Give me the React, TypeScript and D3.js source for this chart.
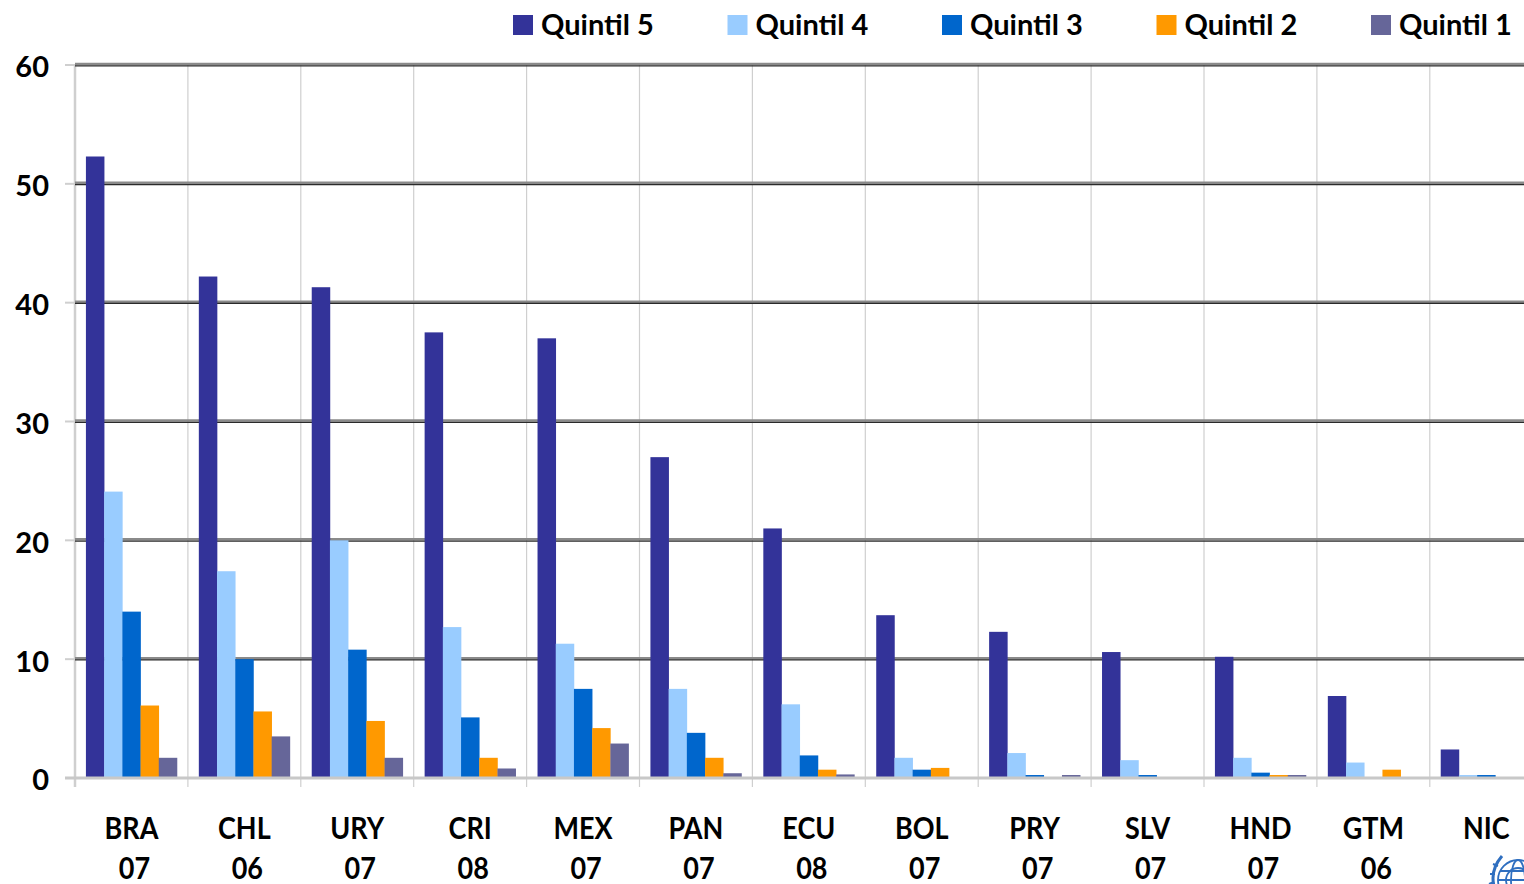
import React from "react";
import * as d3 from "d3";

const countries = ["BRA", "CHL", "URY", "CRI", "MEX", "PAN", "ECU", "BOL", "PRY", "SLV", "HND", "GTM", "NIC"];
const years = ["07", "06", "07", "08", "07", "07", "08", "07", "07", "07", "07", "06", ""];
const seriesNames = ["Quintil 5", "Quintil 4", "Quintil 3", "Quintil 2", "Quintil 1"];
const seriesColors = ["#333399", "#99CCFF", "#0066CC", "#FF9900", "#666699"];
const quintil5 = [52.3, 42.2, 41.3, 37.5, 37.0, 27.0, 21.0, 13.7, 12.3, 10.6, 10.2, 6.9, 2.4];
const quintil4 = [24.1, 17.4, 20.0, 12.7, 11.3, 7.5, 6.2, 1.7, 2.1, 1.5, 1.7, 1.3, 0.25];
const quintil3 = [14.0, 10.0, 10.8, 5.1, 7.5, 3.8, 1.9, 0.7, 0.25, 0.25, 0.45, 0, 0.25];
const quintil2 = [6.1, 5.6, 4.8, 1.7, 4.2, 1.7, 0.7, 0.85, 0, 0, 0.25, 0.7, 0];
const quintil1 = [1.7, 3.5, 1.7, 0.8, 2.9, 0.4, 0.3, 0, 0.25, 0, 0.25, 0, 0];
const yTicks = [0, 10, 20, 30, 40, 50, 60];

const W = 1524;
const H = 884;
const left = 75;
const top = 65;
const bottom = 778;
const bandW = 112.9;

export default function App() {
  const series = [quintil5, quintil4, quintil3, quintil2, quintil1];
  const x = d3
    .scaleBand<string>()
    .domain(countries)
    .range([left, left + bandW * countries.length])
    .paddingInner(0)
    .paddingOuter(0);
  const xInner = d3
    .scaleBand<number>()
    .domain(d3.range(seriesNames.length))
    .range([0, x.bandwidth()])
    .paddingOuter(0.6)
    .paddingInner(0);
  const y = d3.scaleLinear().domain([0, 60]).range([bottom, top]);
  const font = "Lato, 'Open Sans', sans-serif";

  return (
    <svg
      width={W}
      height={H}
      style={{ position: "absolute", left: 0, top: 0, background: "#fff" }}
      fontFamily={font}
    >
      {/* vertical gridlines */}
      {countries.map((c, i) => (
        <line
          key={"v" + c}
          x1={x(c)!}
          x2={x(c)!}
          y1={top}
          y2={bottom + 9}
          stroke="#cfcfcf"
          strokeWidth={i === 0 ? 2.5 : 1.2}
        />
      ))}
      {/* horizontal gridlines */}
      {yTicks.map((t) =>
        t === 0 ? null : (
          <g key={"h" + t}>
            <line x1={left} x2={W} y1={y(t) - 1} y2={y(t) - 1} stroke="#8a8a8a" strokeWidth={2.5} />
            <line x1={left} x2={W} y1={y(t) + 0.8} y2={y(t) + 0.8} stroke="#2a2a2a" strokeWidth={1.2} />
          </g>
        )
      )}
      {/* y tick marks */}
      {yTicks.map((t) => (
        <line key={"yt" + t} x1={left - 10} x2={left} y1={y(t)} y2={y(t)} stroke="#cfcfcf" strokeWidth={2} />
      ))}
      {/* bars */}
      {countries.map((c, i) => (
        <g key={"g" + c} transform={`translate(${x(c)},0)`}>
          {series.map((s, j) =>
            s[i] > 0 ? (
              <rect
                key={j}
                x={xInner(j)!}
                y={y(s[i])}
                width={xInner.bandwidth() + 0.3}
                height={bottom - y(s[i])}
                fill={seriesColors[j]}
              />
            ) : null
          )}
        </g>
      ))}
      {/* baseline */}
      <line x1={left - 10} x2={W} y1={bottom} y2={bottom} stroke="#c8c8c8" strokeWidth={3} />
      {/* y labels */}
      {yTicks.map((t) => (
        <text
          key={"yl" + t}
          x={49}
          y={y(t) + 2}
          dy="0.36em"
          textAnchor="end"
          fontSize={29}
          fontWeight="bold"
          fill="#000"
        >
          {t}
        </text>
      ))}
      {/* x labels */}
      {countries.map((c, i) => {
        const cx = x(c)! + x.bandwidth() / 2;
        return (
          <g key={"xl" + c}>
            <text
              transform={`translate(${cx},839) scale(0.9,1)`}
              textAnchor="middle"
              fontSize={30}
              fontWeight="bold"
              fill="#000"
            >
              {c}
            </text>
            {years[i] ? (
              <text
                transform={`translate(${cx + 3},879) scale(0.9,1)`}
                textAnchor="middle"
                fontSize={30}
                fontWeight="bold"
                fill="#000"
              >
                {years[i]}
              </text>
            ) : null}
          </g>
        );
      })}
      {/* legend */}
      {seriesNames.map((n, j) => (
        <g key={"lg" + n} transform={`translate(${513 + j * 214.5},15)`}>
          <rect x={0} y={0} width={20} height={20} fill={seriesColors[j]} />
          <text x={28} y={20} fontSize={29} fontWeight="bold" fill="#000">
            {n}
          </text>
        </g>
      ))}
      {/* emblem fragment */}
      <g transform="translate(1518,880)" stroke="#2f6fc0" fill="none" strokeWidth={1.8}>
        <circle r={20} />
        <circle r={12} />
        <ellipse rx={7} ry={20} />
        <line x1={-20} x2={20} y1={0} y2={0} />
        <line x1={-18} x2={18} y1={-9} y2={-9} />
        <path d="M-24,6 Q-28,-10 -16,-24" strokeWidth={3} />
        <path d="M-20,-14 l-5,-2 M-23,-6 l-5,0 M-24,2 l-5,2" strokeWidth={2} />
      </g>
    </svg>
  );
}
